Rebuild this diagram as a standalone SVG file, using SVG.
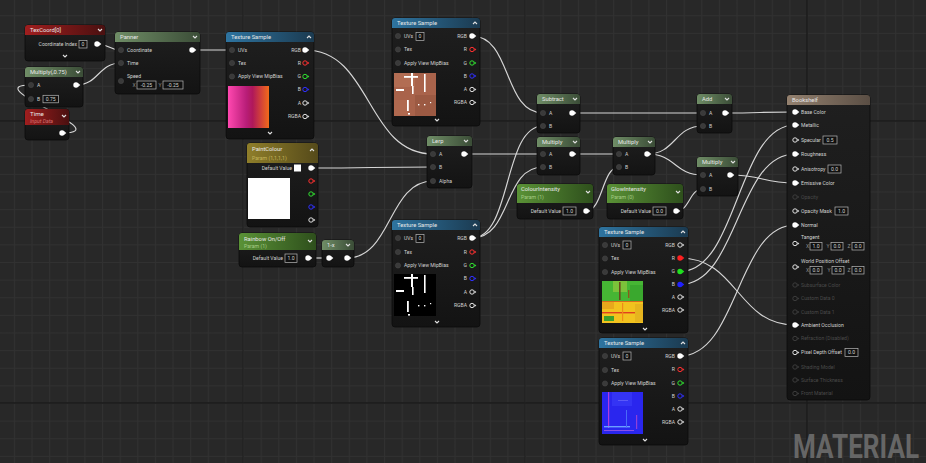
<svg xmlns="http://www.w3.org/2000/svg" xmlns:xlink="http://www.w3.org/1999/xlink" width="926" height="463" viewBox="0 0 926 463">
<defs>
<pattern id="grid" width="17.625" height="17.625" patternUnits="userSpaceOnUse" patternTransform="translate(13.875,15.25)">
<rect width="17.625" height="17.625" fill="#282828"/>
<path d="M0,0.5H17.625M0.5,0V17.625" stroke="#313131" stroke-width="1" fill="none"/>
</pattern>
<linearGradient id="body" x1="0" y1="0" x2="0" y2="1"><stop offset="0" stop-color="#1f1f1f"/><stop offset="1" stop-color="#131313"/></linearGradient>
<linearGradient id="hRed" x1="0" y1="0" x2="1" y2="0"><stop offset="0" stop-color="#a01e1e"/><stop offset="1" stop-color="#4a1010"/></linearGradient>
<linearGradient id="hMath" x1="0" y1="0" x2="1" y2="0"><stop offset="0" stop-color="#6f8d66"/><stop offset="1" stop-color="#3b4d37"/></linearGradient>
<linearGradient id="hParam" x1="0" y1="0" x2="1" y2="0"><stop offset="0" stop-color="#5a9236"/><stop offset="1" stop-color="#2e4f1c"/></linearGradient>
<linearGradient id="hGold" x1="0" y1="0" x2="1" y2="0"><stop offset="0" stop-color="#8f7e2a"/><stop offset="1" stop-color="#554a1a"/></linearGradient>
<linearGradient id="hBlue" x1="0" y1="0" x2="1" y2="0"><stop offset="0" stop-color="#2e74a0"/><stop offset="1" stop-color="#1b3a50"/></linearGradient>
<linearGradient id="hTan" x1="0" y1="0" x2="1" y2="0"><stop offset="0" stop-color="#94816f"/><stop offset="1" stop-color="#5a4e44"/></linearGradient>
<linearGradient id="pinkGrad" x1="0" y1="0" x2="1" y2="0"><stop offset="0" stop-color="#ff48b0"/><stop offset="0.45" stop-color="#b81d78"/><stop offset="0.6" stop-color="#b0185a"/><stop offset="1" stop-color="#f26a1a"/></linearGradient>
<g id="pOut"><circle r="2.7" fill="#ffffff"/><path d="M2.1,-1.7L4.3,0L2.1,1.7Z" fill="#ffffff"/></g>
<g id="pHol"><circle r="2.2" fill="none" stroke="currentColor" stroke-width="1"/><path d="M2.5,-1.6L4.3,0L2.5,1.6Z" fill="currentColor"/></g>
<g id="pCol"><circle r="2.7" fill="currentColor"/><path d="M2.1,-1.7L4.3,0L2.1,1.7Z" fill="currentColor"/></g>
<g id="pIn"><circle r="2.6" fill="#3a3a3a" stroke="#474747" stroke-width="0.6"/></g>
<path id="chevD" d="M-2,-1L0,1L2,-1" fill="none" stroke="#e0e0e0" stroke-width="1.1"/>
<path id="chevU" d="M-2,1L0,-1L2,1" fill="none" stroke="#e0e0e0" stroke-width="1.1"/>
<g id="marks" fill="#ffffff">
<rect x="17" y="0" width="2" height="13"/><rect x="10" y="3" width="14" height="1.8"/>
<rect x="30" y="1" width="1.6" height="18"/><rect x="2" y="16" width="8" height="2"/>
<rect x="18" y="13" width="1.6" height="8"/><rect x="13" y="27" width="1.8" height="11"/>
<rect x="24" y="31" width="1.4" height="1.4"/><rect x="30" y="31" width="1.4" height="1.4"/>
<rect x="14" y="40" width="2" height="1.6"/><rect x="36" y="29" width="1.2" height="1.2"/>
</g>
<style>
.nb{fill:url(#body);stroke:#0b0b0b;stroke-width:0.8}
.t{font-family:Roboto,"Liberation Sans",sans-serif;font-size:5.8px;fill:#e8e8e8}
.l{font-family:Roboto,"Liberation Sans",sans-serif;font-size:5.1px;fill:#d2d2d2}
.s{font-family:Roboto,"Liberation Sans",sans-serif;font-size:5.2px}
.r{text-anchor:end}
.c{text-anchor:middle}
.dis{fill:#4a4a4a}
.bx{fill:#101010;stroke:#b8b8b8;stroke-width:0.7}
.xl{fill:#8a8a8a}
.w{fill:none;stroke:#d6d6d6;stroke-width:1.15}
</style>
</defs>

<g id="background">
<rect width="926" height="463" fill="url(#grid)"/>
<path d="M0,121H926M0,403H926M807,0V463" stroke="#1b1b1b" stroke-width="1.4"/>
<path d="M525,0V463M243,0V463" stroke="#222222" stroke-width="1.2"/>
</g>

<g id="connectors">
<path class="w" d="M97,44C110,44 108,50 121,50"/>
<path class="w" d="M76,85C99,85 98,63 121,63"/>
<path class="w" d="M62,133C120,133 -25,85 31,85"/>
<path class="w" d="M192,50H232"/>
<path class="w" d="M305,50C372,50 366,154 433,154"/>
<path class="w" d="M311,168C372,168 372,167 433,167"/>
<path class="w" d="M308,258H329"/>
<path class="w" d="M347,258C392,258 388,181 433,181"/>
<path class="w" d="M472,36C512,36 503,113 543,113"/>
<path class="w" d="M464,154H543"/>
<path class="w" d="M472,238C512,238 503,126 543,126"/>
<path class="w" d="M472,238C512,238 503,167 543,167"/>
<path class="w" d="M572,154H619"/>
<path class="w" d="M586,211C603,211 602,167 619,167"/>
<path class="w" d="M572,113H703"/>
<path class="w" d="M647,154C676,154 674,126 703,126"/>
<path class="w" d="M647,154C676,154 674,175 703,175"/>
<path class="w" d="M676,211C690,211 689,189 703,189"/>
<path class="w" d="M725,113C760,113 760,112 795,112"/>
<path class="w" d="M730,175C763,175 762,183 795,183"/>
<path class="w" d="M680,258C738,258 737,325 795,325"/>
<path class="w" d="M680,271.5C738,271.5 737,125 795,125"/>
<path class="w" d="M680,284.5C738,284.5 737,154 795,154"/>
<path class="w" d="M680,356C738,356 737,225 795,225"/>
</g>

<g id="texcoord">
<rect class="nb" x="25" y="25" width="80" height="36" rx="3"/>
<rect x="25" y="25" width="80" height="10" rx="3" fill="url(#hRed)"/><rect x="25" y="32" width="80" height="3" fill="url(#hRed)"/>
<text class="t" x="30" y="32.2">TexCoord[0]</text>
<use href="#chevD" x="100" y="30"/>
<text class="l r" x="77" y="46">Coordinate Index</text>
<rect class="bx" x="79" y="40.5" width="8" height="7.5"/><text class="l c" x="83" y="46">0</text>
<use href="#pOut" x="97" y="44"/>
<use href="#chevD" x="65" y="56"/>
</g>

<g id="multiply075">
<rect class="nb" x="25" y="67" width="58" height="40" rx="3"/>
<rect x="25" y="67" width="58" height="10" rx="3" fill="url(#hMath)"/><rect x="25" y="74" width="58" height="3" fill="url(#hMath)"/>
<text class="t" x="30" y="74.2">Multiply(,0.75)</text>
<use href="#chevD" x="78" y="72"/>
<use href="#pIn" x="31" y="85"/><text class="l" x="37" y="86.8">A</text>
<use href="#pIn" x="31" y="99"/><text class="l" x="37" y="100.8">B</text>
<rect class="bx" x="43" y="95.3" width="15.5" height="7.5"/><text class="l c" x="50.7" y="100.8">0.75</text>
<use href="#pOut" x="76" y="85"/>
</g>

<g id="time">
<rect class="nb" x="25" y="109" width="44" height="31" rx="3"/>
<rect x="25" y="109" width="44" height="16" rx="3" fill="url(#hRed)"/><rect x="25" y="122" width="44" height="3" fill="url(#hRed)"/>
<text class="t" x="30" y="116.3" style="font-size:6.2px">Time</text>
<text class="s" x="30" y="123" style="font-style:italic;fill:#d77070">Input Data</text>
<use href="#chevD" x="64" y="116"/>
<use href="#pOut" x="62" y="133"/>
</g>

<g id="panner">
<rect class="nb" x="115" y="32" width="85" height="62" rx="3"/>
<rect x="115" y="32" width="85" height="10" rx="3" fill="url(#hMath)"/><rect x="115" y="39" width="85" height="3" fill="url(#hMath)"/>
<text class="t" x="120" y="39.2">Panner</text>
<use href="#chevD" x="195" y="37"/>
<use href="#pIn" x="121" y="50"/><text class="l" x="127" y="51.8">Coordinate</text>
<use href="#pIn" x="121" y="63"/><text class="l" x="127" y="64.8">Time</text>
<use href="#pIn" x="121" y="81"/><text class="l" x="127" y="78.3">Speed</text>
<text class="l xl" x="132.5" y="87">X</text>
<rect class="bx" x="137" y="81" width="19" height="8"/><text class="l c" x="146.5" y="86.8">-0.25</text>
<text class="l xl" x="158.5" y="87">Y</text>
<rect class="bx" x="163" y="81" width="20" height="8"/><text class="l c" x="173" y="86.8">-0.25</text>
<use href="#pOut" x="192" y="50"/>
</g>

<g id="texsample1">
<rect class="nb" x="226" y="32" width="88" height="107" rx="3"/>
<rect x="226" y="32" width="88" height="10" rx="3" fill="url(#hBlue)"/><rect x="226" y="39" width="88" height="3" fill="url(#hBlue)"/>
<text class="t" x="231" y="39.2">Texture Sample</text>
<use href="#chevU" x="309" y="37"/>
<use href="#pIn" x="232" y="50"/><text class="l" x="238" y="51.8">UVs</text>
<use href="#pIn" x="232" y="63"/><text class="l" x="238" y="64.8">Tex</text>
<use href="#pIn" x="232" y="76.5"/><text class="l" x="238" y="78.3">Apply View MipBias</text>
<text class="l r" x="301" y="51.8">RGB</text><use href="#pOut" x="305" y="50"/>
<text class="l r" x="301" y="64.8">R</text><use href="#pHol" x="305" y="63" style="color:#ff3030"/>
<text class="l r" x="301" y="78.3">G</text><use href="#pHol" x="305" y="76.5" style="color:#30e030"/>
<text class="l r" x="301" y="91.3">B</text><use href="#pHol" x="305" y="89.5" style="color:#3030ff"/>
<text class="l r" x="301" y="104.8">A</text><use href="#pHol" x="305" y="103" style="color:#e0e0e0"/>
<text class="l r" x="301" y="118.3">RGBA</text><use href="#pHol" x="305" y="116.5" style="color:#e0e0e0"/>
<rect x="228" y="86" width="41" height="42" fill="url(#pinkGrad)"/>
<use href="#chevD" x="270" y="133"/>
</g>

<g id="paintcolour">
<rect class="nb" x="247" y="143" width="71" height="84" rx="3"/>
<rect x="247" y="143" width="71" height="20" rx="3" fill="url(#hGold)"/><rect x="247" y="160" width="71" height="3" fill="url(#hGold)"/>
<text class="t" x="252" y="151">PaintColour</text>
<text class="s" x="252" y="159.5" style="fill:#c4b45a">Param (1,1,1,1)</text>
<use href="#chevU" x="312" y="150"/>
<text class="l r" x="292" y="169.8">Default Value</text>
<rect x="294" y="164.5" width="7" height="7" fill="#ffffff"/>
<use href="#pOut" x="311" y="168"/>
<rect x="248" y="178" width="42" height="41" fill="#ffffff"/>
<use href="#pHol" x="311" y="181" style="color:#ff3030"/>
<use href="#pHol" x="311" y="194" style="color:#30e030"/>
<use href="#pHol" x="311" y="207" style="color:#3030ff"/>
<use href="#pHol" x="311" y="220" style="color:#e0e0e0"/>
</g>

<g id="rainbow">
<rect class="nb" x="239" y="233" width="77" height="34" rx="3"/>
<rect x="239" y="233" width="77" height="17" rx="3" fill="url(#hParam)"/><rect x="239" y="247" width="77" height="3" fill="url(#hParam)"/>
<text class="t" x="244" y="240.5">Rainbow On/Off</text>
<text class="s" x="244" y="248" style="fill:#a6cc86">Param (1)</text>
<use href="#chevD" x="310" y="241"/>
<text class="l r" x="283" y="260.2">Default Value</text>
<rect class="bx" x="285" y="254" width="12" height="8.5"/><text class="l c" x="291" y="260.1">1.0</text>
<use href="#pOut" x="308" y="258"/>
</g>

<g id="oneminusx">
<rect class="nb" x="322" y="240" width="32" height="27" rx="3"/>
<rect x="322" y="240" width="32" height="10" rx="3" fill="url(#hMath)"/><rect x="322" y="247" width="32" height="3" fill="url(#hMath)"/>
<text class="t" x="327" y="247.4">1-x</text>
<use href="#chevD" x="348" y="245"/>
<use href="#pOut" x="329" y="258"/>
<use href="#pOut" x="347" y="258"/>
</g>

<g id="lerp">
<rect class="nb" x="427" y="136" width="45" height="52" rx="3"/>
<rect x="427" y="136" width="45" height="10" rx="3" fill="url(#hMath)"/><rect x="427" y="143" width="45" height="3" fill="url(#hMath)"/>
<text class="t" x="432" y="143.2">Lerp</text>
<use href="#chevD" x="466" y="141"/>
<use href="#pIn" x="433" y="154"/><text class="l" x="439" y="155.8">A</text>
<use href="#pIn" x="433" y="167"/><text class="l" x="439" y="168.8">B</text>
<use href="#pIn" x="433" y="181"/><text class="l" x="439" y="182.8">Alpha</text>
<use href="#pOut" x="464" y="154"/>
</g>

<g id="texsample2">
<rect class="nb" x="392" y="18" width="88" height="108" rx="3"/>
<rect x="392" y="18" width="88" height="10" rx="3" fill="url(#hBlue)"/><rect x="392" y="25" width="88" height="3" fill="url(#hBlue)"/>
<text class="t" x="397" y="25.2">Texture Sample</text>
<use href="#chevU" x="475" y="23"/>
<use href="#pIn" x="398" y="36"/><text class="l" x="404" y="37.8">UVs</text>
<rect class="bx" x="416" y="32.5" width="8" height="8"/><text class="l c" x="420" y="38.3">0</text>
<use href="#pIn" x="398" y="49.5"/><text class="l" x="404" y="51.3">Tex</text>
<use href="#pIn" x="398" y="63"/><text class="l" x="404" y="64.8">Apply View MipBias</text>
<text class="l r" x="467" y="37.8">RGB</text><use href="#pOut" x="472" y="36"/>
<text class="l r" x="467" y="51.3">R</text><use href="#pHol" x="472" y="49.5" style="color:#ff3030"/>
<text class="l r" x="467" y="64.8">G</text><use href="#pHol" x="472" y="63" style="color:#30e030"/>
<text class="l r" x="467" y="77.8">B</text><use href="#pHol" x="472" y="76" style="color:#3030ff"/>
<text class="l r" x="467" y="91.3">A</text><use href="#pHol" x="472" y="89.5" style="color:#e0e0e0"/>
<text class="l r" x="467" y="104.3">RGBA</text><use href="#pHol" x="472" y="102.5" style="color:#e0e0e0"/>
<rect x="394" y="73" width="42" height="43" fill="#a9634b"/>
<rect x="394" y="73" width="21" height="14" fill="#b26d53"/><rect x="415" y="95" width="21" height="21" fill="#9c5a43"/><rect x="394" y="100" width="14" height="16" fill="#b0694f"/>
<use href="#marks" x="394" y="73"/>
<use href="#chevD" x="437" y="120"/>
</g>

<g id="texsample_mask">
<rect class="nb" x="392" y="220" width="88" height="107" rx="3"/>
<rect x="392" y="220" width="88" height="10" rx="3" fill="url(#hBlue)"/><rect x="392" y="227" width="88" height="3" fill="url(#hBlue)"/>
<text class="t" x="397" y="227.2">Texture Sample</text>
<use href="#chevU" x="475" y="225"/>
<use href="#pIn" x="398" y="238"/><text class="l" x="404" y="239.8">UVs</text>
<rect class="bx" x="416" y="234.5" width="8" height="8"/><text class="l c" x="420" y="240.3">0</text>
<use href="#pIn" x="398" y="252"/><text class="l" x="404" y="253.8">Tex</text>
<use href="#pIn" x="398" y="265.5"/><text class="l" x="404" y="267.3">Apply View MipBias</text>
<text class="l r" x="467" y="239.8">RGB</text><use href="#pOut" x="472" y="238"/>
<text class="l r" x="467" y="253.8">R</text><use href="#pHol" x="472" y="252" style="color:#ff3030"/>
<text class="l r" x="467" y="267.3">G</text><use href="#pHol" x="472" y="265.5" style="color:#30e030"/>
<text class="l r" x="467" y="280.3">B</text><use href="#pHol" x="472" y="278.5" style="color:#3030ff"/>
<text class="l r" x="467" y="293.8">A</text><use href="#pHol" x="472" y="292" style="color:#e0e0e0"/>
<text class="l r" x="467" y="307.3">RGBA</text><use href="#pHol" x="472" y="305.5" style="color:#e0e0e0"/>
<rect x="394" y="274" width="42" height="42" fill="#000000"/>
<use href="#marks" x="394" y="274"/>
<use href="#chevD" x="437" y="322"/>
</g>

<g id="subtract">
<rect class="nb" x="537" y="94" width="43" height="39" rx="3"/>
<rect x="537" y="94" width="43" height="10" rx="3" fill="url(#hMath)"/><rect x="537" y="101" width="43" height="3" fill="url(#hMath)"/>
<text class="t" x="542" y="101.2">Subtract</text>
<use href="#chevD" x="575" y="99"/>
<use href="#pIn" x="543" y="113"/><text class="l" x="549" y="114.8">A</text>
<use href="#pIn" x="543" y="126"/><text class="l" x="549" y="127.8">B</text>
<use href="#pOut" x="572" y="113"/>
</g>

<g id="multiply1">
<rect class="nb" x="537" y="137" width="43" height="38" rx="3"/>
<rect x="537" y="137" width="43" height="10" rx="3" fill="url(#hMath)"/><rect x="537" y="144" width="43" height="3" fill="url(#hMath)"/>
<text class="t" x="542" y="144.2">Multiply</text>
<use href="#chevD" x="575" y="142"/>
<use href="#pIn" x="543" y="154"/><text class="l" x="549" y="155.8">A</text>
<use href="#pIn" x="543" y="167"/><text class="l" x="549" y="168.8">B</text>
<use href="#pOut" x="572" y="154"/>
</g>

<g id="multiply2">
<rect class="nb" x="613" y="137" width="42" height="38" rx="3"/>
<rect x="613" y="137" width="42" height="10" rx="3" fill="url(#hMath)"/><rect x="613" y="144" width="42" height="3" fill="url(#hMath)"/>
<text class="t" x="618" y="144.2">Multiply</text>
<use href="#chevD" x="650" y="142"/>
<use href="#pIn" x="619" y="154"/><text class="l" x="625" y="155.8">A</text>
<use href="#pIn" x="619" y="167"/><text class="l" x="625" y="168.8">B</text>
<use href="#pOut" x="647" y="154"/>
</g>

<g id="add">
<rect class="nb" x="697" y="94" width="35" height="39" rx="3"/>
<rect x="697" y="94" width="35" height="10" rx="3" fill="url(#hMath)"/><rect x="697" y="101" width="35" height="3" fill="url(#hMath)"/>
<text class="t" x="702" y="101.2">Add</text>
<use href="#chevD" x="727" y="99"/>
<use href="#pIn" x="703" y="113"/><text class="l" x="709" y="114.8">A</text>
<use href="#pIn" x="703" y="126"/><text class="l" x="709" y="127.8">B</text>
<use href="#pOut" x="725" y="113"/>
</g>

<g id="multiply3">
<rect class="nb" x="697" y="157" width="41" height="39" rx="3"/>
<rect x="697" y="157" width="41" height="10" rx="3" fill="url(#hMath)"/><rect x="697" y="164" width="41" height="3" fill="url(#hMath)"/>
<text class="t" x="702" y="164.2">Multiply</text>
<use href="#chevD" x="733" y="162"/>
<use href="#pIn" x="703" y="175"/><text class="l" x="709" y="176.8">A</text>
<use href="#pIn" x="703" y="189"/><text class="l" x="709" y="190.8">B</text>
<use href="#pOut" x="730" y="175"/>
</g>

<g id="colourintensity">
<rect class="nb" x="517" y="184" width="76" height="35" rx="3"/>
<rect x="517" y="184" width="76" height="19" rx="3" fill="url(#hParam)"/><rect x="517" y="200" width="76" height="3" fill="url(#hParam)"/>
<text class="t" x="521" y="191.2">ColourIntensity</text>
<text class="s" x="521" y="199" style="fill:#a6cc86">Param (1)</text>
<use href="#chevD" x="588" y="192"/>
<text class="l r" x="561" y="212.8">Default Value</text>
<rect class="bx" x="563" y="207" width="13" height="8"/><text class="l c" x="569.5" y="212.8">1.0</text>
<use href="#pOut" x="586" y="211"/>
</g>

<g id="glowintensity">
<rect class="nb" x="607" y="184" width="76" height="35" rx="3"/>
<rect x="607" y="184" width="76" height="19" rx="3" fill="url(#hParam)"/><rect x="607" y="200" width="76" height="3" fill="url(#hParam)"/>
<text class="t" x="611" y="191.2">GlowIntensity</text>
<text class="s" x="611" y="199" style="fill:#a6cc86">Param (0)</text>
<use href="#chevD" x="678" y="192"/>
<text class="l r" x="651" y="212.8">Default Value</text>
<rect class="bx" x="653" y="207" width="13" height="8"/><text class="l c" x="659.5" y="212.8">0.0</text>
<use href="#pOut" x="676" y="211"/>
</g>

<g id="texsample3">
<rect class="nb" x="599" y="227" width="89" height="106" rx="3"/>
<rect x="599" y="227" width="89" height="10" rx="3" fill="url(#hBlue)"/><rect x="599" y="234" width="89" height="3" fill="url(#hBlue)"/>
<text class="t" x="604" y="234.2">Texture Sample</text>
<use href="#chevU" x="683" y="232"/>
<use href="#pIn" x="605" y="245"/><text class="l" x="611" y="246.8">UVs</text>
<rect class="bx" x="623" y="241" width="8" height="8"/><text class="l c" x="627" y="246.8">0</text>
<use href="#pIn" x="605" y="258.5"/><text class="l" x="611" y="260.3">Tex</text>
<use href="#pIn" x="605" y="272"/><text class="l" x="611" y="273.8">Apply View MipBias</text>
<text class="l r" x="675" y="246.8">RGB</text><use href="#pHol" x="680" y="245" style="color:#e0e0e0"/>
<text class="l r" x="675" y="259.8">R</text><use href="#pCol" x="680" y="258" style="color:#ff2020"/>
<text class="l r" x="675" y="273.3">G</text><use href="#pCol" x="680" y="271.5" style="color:#20e020"/>
<text class="l r" x="675" y="286.3">B</text><use href="#pCol" x="680" y="284.5" style="color:#2020ff"/>
<text class="l r" x="675" y="298.8">A</text><use href="#pHol" x="680" y="297" style="color:#e0e0e0"/>
<text class="l r" x="675" y="311.8">RGBA</text><use href="#pHol" x="680" y="310" style="color:#e0e0e0"/>
<g id="ts3preview">
<rect x="602" y="281" width="41" height="42" fill="#f2c21e"/>
<rect x="602" y="281" width="41" height="20" fill="#46b634"/>
<rect x="613" y="281" width="14" height="11" fill="#7cc23a"/>
<rect x="630" y="285" width="13" height="16" fill="#3aa82e"/>
<rect x="602" y="301" width="12" height="8" fill="#e8a81c"/>
<rect x="602" y="312" width="41" height="1.4" fill="#e04020"/>
<rect x="602" y="301" width="41" height="1" fill="#d86a1c"/>
<rect x="619" y="282" width="1.6" height="18" fill="#6a4a1c"/>
<rect x="628" y="290" width="1.4" height="8" fill="#8a5a1c"/>
<rect x="604" y="316" width="10" height="5" fill="#3ca02c"/>
<rect x="622" y="303" width="1.2" height="18" fill="#f08a18"/>
<rect x="635" y="304" width="8" height="18" fill="#e6b41e"/>
</g>
<use href="#chevD" x="645" y="329"/>
</g>

<g id="texsample4">
<rect class="nb" x="599" y="338" width="89" height="107" rx="3"/>
<rect x="599" y="338" width="89" height="10" rx="3" fill="url(#hBlue)"/><rect x="599" y="345" width="89" height="3" fill="url(#hBlue)"/>
<text class="t" x="604" y="345.2">Texture Sample</text>
<use href="#chevU" x="683" y="343"/>
<use href="#pIn" x="605" y="356"/><text class="l" x="611" y="357.8">UVs</text>
<rect class="bx" x="623" y="352" width="8" height="8"/><text class="l c" x="627" y="357.8">0</text>
<use href="#pIn" x="605" y="370"/><text class="l" x="611" y="371.8">Tex</text>
<use href="#pIn" x="605" y="383.5"/><text class="l" x="611" y="385.3">Apply View MipBias</text>
<text class="l r" x="675" y="357.8">RGB</text><use href="#pOut" x="680" y="356"/>
<text class="l r" x="675" y="371.3">R</text><use href="#pHol" x="680" y="369.5" style="color:#ff3030"/>
<text class="l r" x="675" y="384.8">G</text><use href="#pHol" x="680" y="383" style="color:#30e030"/>
<text class="l r" x="675" y="397.8">B</text><use href="#pHol" x="680" y="396" style="color:#3030ff"/>
<text class="l r" x="675" y="410.8">A</text><use href="#pHol" x="680" y="409" style="color:#e0e0e0"/>
<text class="l r" x="675" y="423.8">RGBA</text><use href="#pHol" x="680" y="422" style="color:#e0e0e0"/>
<g id="ts4preview">
<rect x="602" y="392" width="41" height="42" fill="#2a26ee"/>
<rect x="612" y="392" width="20" height="14" fill="#3434f4"/>
<rect x="608" y="392" width="1.2" height="36" fill="#b03cd8"/>
<rect x="604" y="426" width="26" height="1.4" fill="#6aa0ff"/>
<rect x="604" y="430" width="30" height="1" fill="#8a50e8"/>
<rect x="626" y="410" width="1" height="18" fill="#4a6af8"/>
<rect x="618" y="400" width="10" height="1" fill="#5a58f8"/>
<rect x="636" y="415" width="1.2" height="14" fill="#9040d8"/>
</g>
<use href="#chevD" x="645" y="440"/>
</g>

<g id="bookshelf">
<rect class="nb" x="787" y="95" width="83" height="305" rx="3"/>
<rect x="787" y="95" width="83" height="10" rx="3" fill="url(#hTan)"/><rect x="787" y="102" width="83" height="3" fill="url(#hTan)"/>
<text class="t" x="792" y="102.2">Bookshelf</text>
<use href="#pOut" x="795" y="112"/><text class="l" x="801" y="113.8">Base Color</text>
<use href="#pOut" x="795" y="125"/><text class="l" x="801" y="126.8">Metallic</text>
<use href="#pHol" x="795" y="140" style="color:#e0e0e0"/><text class="l" x="801" y="141.8">Specular</text>
<rect class="bx" x="823" y="136" width="14" height="8"/><text class="l c" x="830" y="141.8">0.5</text>
<use href="#pOut" x="795" y="154"/><text class="l" x="801" y="155.8">Roughness</text>
<use href="#pHol" x="795" y="169" style="color:#e0e0e0"/><text class="l" x="801" y="170.8">Anisotropy</text>
<rect class="bx" x="828" y="165" width="13" height="8"/><text class="l c" x="834.5" y="170.8">0.0</text>
<use href="#pOut" x="795" y="183"/><text class="l" x="801" y="184.8">Emissive Color</text>
<use href="#pHol" x="795" y="197" style="color:#3c3c3c"/><text class="l dis" x="801" y="198.8">Opacity</text>
<use href="#pHol" x="795" y="211" style="color:#e0e0e0"/><text class="l" x="801" y="212.8">Opacity Mask</text>
<rect class="bx" x="835" y="207" width="13" height="8"/><text class="l c" x="841.5" y="212.8">1.0</text>
<use href="#pOut" x="795" y="225"/><text class="l" x="801" y="226.8">Normal</text>
<use href="#pHol" x="795" y="243.5" style="color:#e0e0e0"/><text class="l" x="801" y="239.3">Tangent</text>
<text class="l xl" x="806" y="248.3">X</text><rect class="bx" x="810" y="242.5" width="12" height="7.5"/><text class="l c" x="816" y="248.1">1.0</text>
<text class="l xl" x="826.5" y="248.3">Y</text><rect class="bx" x="831" y="242.5" width="12" height="7.5"/><text class="l c" x="837" y="248.1">0.0</text>
<text class="l xl" x="847.5" y="248.3">Z</text><rect class="bx" x="852" y="242.5" width="12" height="7.5"/><text class="l c" x="858" y="248.1">0.0</text>
<use href="#pHol" x="795" y="267" style="color:#e0e0e0"/><text class="l" x="801" y="263.3">World Position Offset</text>
<text class="l xl" x="806" y="272.3">X</text><rect class="bx" x="810" y="266.5" width="12" height="7.5"/><text class="l c" x="816" y="272.1">0.0</text>
<text class="l xl" x="827.5" y="272.3">Y</text><rect class="bx" x="832" y="266.5" width="12" height="7.5"/><text class="l c" x="838" y="272.1">0.0</text>
<text class="l xl" x="847.5" y="272.3">Z</text><rect class="bx" x="852" y="266.5" width="12" height="7.5"/><text class="l c" x="858" y="272.1">0.0</text>
<use href="#pHol" x="795" y="285" style="color:#3c3c3c"/><text class="l dis" x="801" y="286.8">Subsurface Color</text>
<use href="#pHol" x="795" y="298.5" style="color:#3c3c3c"/><text class="l dis" x="801" y="300.3">Custom Data 0</text>
<use href="#pHol" x="795" y="312" style="color:#3c3c3c"/><text class="l dis" x="801" y="313.8">Custom Data 1</text>
<use href="#pOut" x="795" y="325"/><text class="l" x="801" y="326.8">Ambient Occlusion</text>
<use href="#pHol" x="795" y="338.5" style="color:#3c3c3c"/><text class="l dis" x="801" y="340.3">Refraction (Disabled)</text>
<use href="#pHol" x="795" y="352.5" style="color:#e0e0e0"/><text class="l" x="801" y="354.3">Pixel Depth Offset</text>
<rect class="bx" x="845" y="348.5" width="13" height="8"/><text class="l c" x="851.5" y="354.3">0.0</text>
<use href="#pHol" x="795" y="367" style="color:#3c3c3c"/><text class="l dis" x="801" y="368.8">Shading Model</text>
<use href="#pHol" x="795" y="380" style="color:#3c3c3c"/><text class="l dis" x="801" y="381.8">Surface Thickness</text>
<use href="#pHol" x="795" y="393.5" style="color:#3c3c3c"/><text class="l dis" x="801" y="395.3">Front Material</text>
</g>

<g id="watermark">
<text x="793" y="458" textLength="126" lengthAdjust="spacingAndGlyphs" style="font-family:Roboto,'Liberation Sans',sans-serif;font-weight:bold;font-size:34px;fill:#666666">MATERIAL</text>
</g>
</svg>
